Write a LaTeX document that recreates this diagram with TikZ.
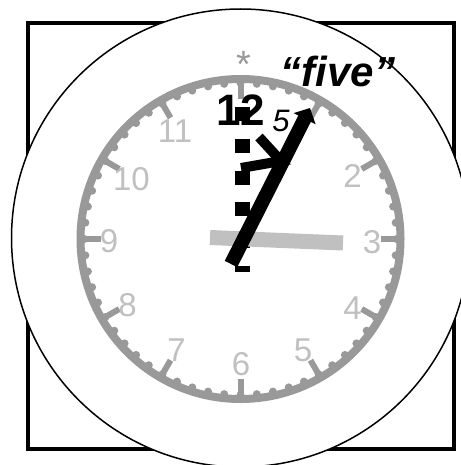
\documentclass[tikz,border=0pt]{standalone}
\usepackage{fontspec}
\setmainfont{Liberation Sans}
\usetikzlibrary{arrows.meta}
\definecolor{ringgray}{HTML}{999999}
\definecolor{numgray}{HTML}{C0C0C0}
\tikzset{
  numstyle/.style={text=numgray, font=\fontsize{33}{33}\selectfont, inner sep=0pt},
  ringline/.style={draw=ringgray, line width=8pt},
  tickline/.style={draw=ringgray, line width=6pt},
  handblack/.style={line width=14pt, -{Triangle[length=12pt,width=24pt]}},
}
\begin{document}
\begin{tikzpicture}[x=1pt,y=-1pt]
\useasboundingbox (0,0) rectangle (460,465);
\coordinate (C) at (240.5,239);
% frame square
\node[draw, line width=4pt, minimum width=426pt, minimum height=426pt, inner sep=0pt] (sq) at (241,236) {};
% big circle
\node[draw, fill=white, circle, line width=1.5pt, minimum size=458pt, inner sep=0pt] (big) at (240.5,238) {};
% clock ring
\draw[ringline] (C) circle (160pt);
\foreach \a in {0,6,...,354}
  \fill[ringgray] ([shift={(\a:156pt)}]C) circle (4pt);
\foreach \a in {0,30,...,330}
  \draw[tickline] ([shift={(\a:140pt)}]C) -- ([shift={(\a:163pt)}]C);
% grey numbers
\foreach \n/\x/\y in {2/352.5/176, 3/372/242.5, 4/352.5/308.5, 5/303/350.5, 6/241/364,
                      7/176.5/350.5, 8/127.5/305.5, 9/109/241, 10/131.5/179, 11/175/131}
  \node[numstyle] (n\n) at (\x,\y) {\n};
% asterisk
\node[text=ringgray, font=\fontsize{38}{38}\selectfont, anchor=base, inner sep=0pt] (star) at (243.5,78) {*};
% dashed black column
\coordinate (dTop) at (242,107);
\coordinate (dBot) at (242,272);
\draw[line width=15pt, dash pattern=on 14pt off 17.8pt] (dTop) -- (dBot);
% grey hour hand
\coordinate (gA) at (210,237.5);
\coordinate (gB) at (343,243);
\draw[numgray, line width=15pt] (gA) -- (gB);
% black labels
\node[font=\bfseries\fontsize{44}{44}\selectfont, inner sep=0pt] (n12) at (241,110) {12};
\node[font=\itshape\fontsize{31}{31}\selectfont, inner sep=0pt] (min5) at (281,121) {5};
\node[font=\bfseries\itshape\fontsize{42}{42}\selectfont, anchor=base, inner sep=0pt] (five) at (338,87) {“five”};
% black minute hand
\coordinate (hTail) at (231,264);
\coordinate (hTip) at (310,108);
\draw[handblack] (hTail) -- (hTip);
% chevron
\coordinate (cA) at (241,168);
\coordinate (cB) at (281,161);
\coordinate (cC) at (259,137);
\draw[line width=10pt, miter limit=10] (cA) -- (cB) -- (cC);
\end{tikzpicture}
\end{document}
